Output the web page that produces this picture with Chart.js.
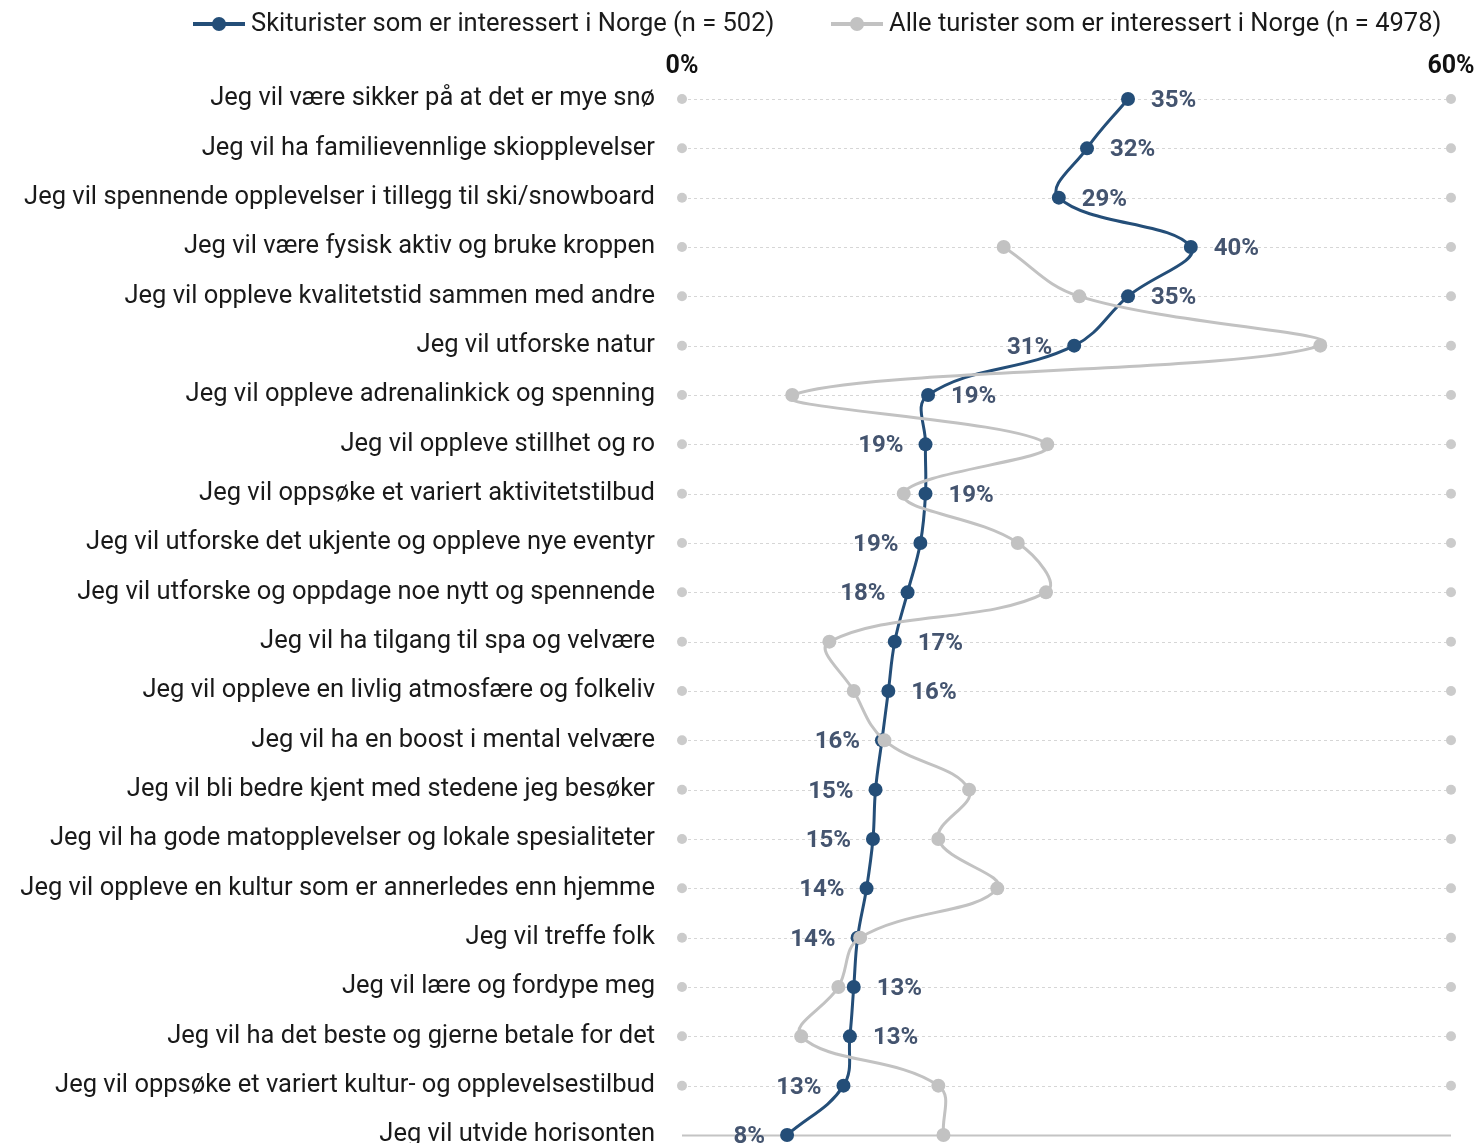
<!DOCTYPE html>
<html lang="no">
<head>
<meta charset="utf-8">
<script src="https://cdn.jsdelivr.net/npm/chart.js@4/dist/chart.umd.min.js"></script>
<style>
  html, body { margin: 0; padding: 0; background: #fff; }
  #wrap { width: 1478px; height: 1143px; }
</style>
</head>
<body>
<div id="wrap"><canvas id="grafMotiver"></canvas></div>
<script>
const kategorier = [
    'Jeg vil være sikker på at det er mye snø',
    'Jeg vil ha familievennlige skiopplevelser',
    'Jeg vil spennende opplevelser i tillegg til ski/snowboard',
    'Jeg vil være fysisk aktiv og bruke kroppen',
    'Jeg vil oppleve kvalitetstid sammen med andre',
    'Jeg vil utforske natur',
    'Jeg vil oppleve adrenalinkick og spenning',
    'Jeg vil oppleve stillhet og ro',
    'Jeg vil oppsøke et variert aktivitetstilbud',
    'Jeg vil utforske det ukjente og oppleve nye eventyr',
    'Jeg vil utforske og oppdage noe nytt og spennende',
    'Jeg vil ha tilgang til spa og velvære',
    'Jeg vil oppleve en livlig atmosfære og folkeliv',
    'Jeg vil ha en boost i mental velvære',
    'Jeg vil bli bedre kjent med stedene jeg besøker',
    'Jeg vil ha gode matopplevelser og lokale spesialiteter',
    'Jeg vil oppleve en kultur som er annerledes enn hjemme',
    'Jeg vil treffe folk',
    'Jeg vil lære og fordype meg',
    'Jeg vil ha det beste og gjerne betale for det',
    'Jeg vil oppsøke et variert kultur- og opplevelsestilbud',
    'Jeg vil utvide horisonten'
];

// andel (%) som oppgir motivet
const skiturister = [34.8, 31.6, 29.4, 39.7, 34.8, 30.6, 19.2, 19.0, 19.0, 18.6, 17.6,
    16.6, 16.1, 15.6, 15.1, 14.9, 14.4, 13.7, 13.4, 13.1, 12.6, 8.2];
const alleTurister = [null, null, null, 25.1, 31.0, 49.8, 8.6, 28.5, 17.3, 26.2, 28.4,
    11.5, 13.4, 15.8, 22.4, 20.0, 24.6, 13.9, 12.2, 9.3, 20.0, 20.4];

const serieNavn = [
    'Skiturister som er interessert i Norge (n = 502)',
    'Alle turister som er interessert i Norge (n = 4978)'
];

const aksMin = 0;
const aksMax = 60;

const FONT = 'Roboto, "Liberation Sans", sans-serif';
const MORK = '#244e78';
const GRA = '#c2c2c2';
const ENDE = '#cbcbcb';

// prikker i hver ende av rutenettet (ikke på siste rad, der ligger grunnlinjen)
const endeVenstre = kategorier.map((k, i) => i < kategorier.length - 1 ? aksMin : null);
const endeHoyre = kategorier.map((k, i) => i < kategorier.length - 1 ? aksMax : null);

const rutenett = {
    id: 'rutenett',
    beforeDatasetsDraw(chart) {
        const ctx = chart.ctx;
        const x = chart.scales.x;
        const y = chart.scales.y;
        const siste = kategorier.length - 1;
        ctx.save();
        kategorier.forEach((k, i) => {
            const py = Math.round(y.getPixelForValue(i)) + 0.5;
            ctx.beginPath();
            if (i === siste) {
                ctx.setLineDash([]);
                ctx.strokeStyle = '#c4c4c4';
                ctx.lineWidth = 2;
            } else {
                ctx.setLineDash([3, 3]);
                ctx.strokeStyle = '#d6d6d6';
                ctx.lineWidth = 1;
            }
            ctx.moveTo(x.getPixelForValue(aksMin), py);
            ctx.lineTo(x.getPixelForValue(aksMax), py);
            ctx.stroke();
        });
        ctx.restore();
    }
};

const verdietiketter = {
    id: 'verdietiketter',
    afterDatasetsDraw(chart) {
        const ctx = chart.ctx;
        const meta = chart.getDatasetMeta(0);
        ctx.save();
        ctx.font = 'bold 24px ' + FONT;
        ctx.fillStyle = '#44546f';
        ctx.textBaseline = 'middle';
        meta.data.forEach((pt, i) => {
            const v = skiturister[i];
            const annen = alleTurister[i];
            const venstre = annen !== null && annen > v;
            ctx.textAlign = venstre ? 'right' : 'left';
            ctx.fillText(Math.round(v) + '%', pt.x + (venstre ? -22 : 23), pt.y + 2);
        });
        ctx.restore();
    }
};

const forklaring = {
    id: 'forklaring',
    afterDraw(chart) {
        const ctx = chart.ctx;
        const farger = [MORK, GRA];
        const startX = [193, 831];
        const yy = 24;
        ctx.save();
        ctx.font = '25.5px ' + FONT;
        ctx.textBaseline = 'middle';
        ctx.textAlign = 'left';
        serieNavn.forEach((navn, i) => {
            const x0 = startX[i];
            ctx.strokeStyle = farger[i];
            ctx.lineWidth = 4;
            ctx.beginPath();
            ctx.moveTo(x0, yy);
            ctx.lineTo(x0 + 52, yy);
            ctx.stroke();
            ctx.fillStyle = farger[i];
            ctx.beginPath();
            ctx.arc(x0 + 26, yy, 7, 0, Math.PI * 2);
            ctx.fill();
            ctx.fillStyle = '#1a1a1a';
            ctx.fillText(navn, x0 + 58, yy + 1);
        });
        ctx.restore();
    }
};

const ctx = document.getElementById('grafMotiver').getContext('2d');

new Chart(ctx, {
    type: 'line',
    data: {
        labels: kategorier,
        datasets: [
            {
                label: serieNavn[0],
                data: skiturister,
                borderColor: MORK,
                backgroundColor: MORK,
                borderWidth: 3,
                pointRadius: 7,
                pointBorderWidth: 0,
                tension: 0.4,
                clip: false,
                order: 2
            },
            {
                label: serieNavn[1],
                data: alleTurister,
                borderColor: GRA,
                backgroundColor: GRA,
                borderWidth: 3,
                pointRadius: 7,
                pointBorderWidth: 0,
                tension: 0.4,
                clip: false,
                order: 1
            },
            {
                label: 'min',
                data: endeVenstre,
                showLine: false,
                pointRadius: 5,
                pointBorderWidth: 0,
                backgroundColor: ENDE,
                clip: false,
                order: 3
            },
            {
                label: 'max',
                data: endeHoyre,
                showLine: false,
                pointRadius: 5,
                pointBorderWidth: 0,
                backgroundColor: ENDE,
                clip: false,
                order: 3
            }
        ]
    },
    options: {
        indexAxis: 'y',
        responsive: true,
        maintainAspectRatio: false,
        animation: false,
        layout: {
            padding: { top: 0, right: 27, bottom: 8, left: 0 }
        },
        plugins: {
            legend: { display: false },
            tooltip: { enabled: false }
        },
        scales: {
            x: {
                type: 'linear',
                position: 'top',
                min: aksMin,
                max: aksMax,
                grid: { display: false, drawTicks: false },
                border: { display: false },
                ticks: {
                    stepSize: 60,
                    padding: 17,
                    color: '#111',
                    font: { family: FONT, size: 25, weight: 'bold' },
                    callback: v => v + '%'
                },
                afterFit(scale) {
                    scale.height = 99;
                    scale.paddingLeft = 0;
                    scale.paddingRight = 0;
                }
            },
            y: {
                type: 'category',
                offset: false,
                grid: { display: false, drawTicks: false },
                border: { display: false },
                ticks: {
                    autoSkip: false,
                    padding: 27,
                    color: '#1a1a1a',
                    font: { family: FONT, size: 25.5 }
                },
                afterFit(scale) {
                    scale.width = 682;
                    scale.paddingTop = 0;
                    scale.paddingBottom = 0;
                }
            }
        }
    },
    plugins: [rutenett, verdietiketter, forklaring]
});
</script>
</body>
</html>
